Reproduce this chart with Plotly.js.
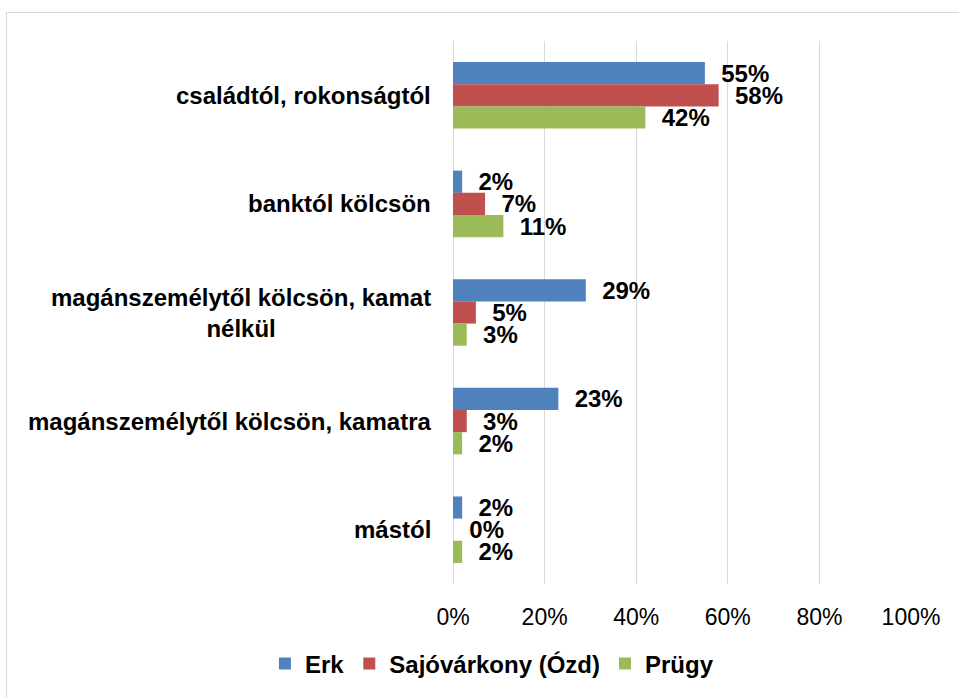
<!DOCTYPE html>
<html>
<head>
<meta charset="utf-8">
<script src="https://cdn.plot.ly/plotly-3.0.1.min.js"></script>
<style>
html,body{margin:0;padding:0;background:#fff;overflow:hidden;}
#frame{position:absolute;left:6px;top:12px;width:2000px;height:2000px;border:1px solid #D9D9D9;box-sizing:border-box;pointer-events:none;z-index:2;}
#chart{position:absolute;left:0;top:0;width:959px;height:698px;}
</style>
</head>
<body>
<div id="chart"></div>
<div id="frame"></div>
<script>
const categories = [
  "családtól, rokonságtól",
  "banktól kölcsön",
  "magánszemélytől kölcsön, kamat<br>nélkül",
  "magánszemélytől kölcsön, kamatra",
  "mástól"
];
const seriesNames = ["Erk", "Sajóvárkony (Ózd)", "Prügy"];
const erk = [55, 2, 29, 23, 2];
const sajovarkony = [58, 7, 5, 3, 0];
const prugy = [42, 11, 3, 2, 2];
const xTickValues = [0, 20, 40, 60, 80, 100];
const colors = ["#4F81BD", "#C0504D", "#9BBB59"];

const FONT = "Liberation Sans, Arial, sans-serif";
const series = [erk, sajovarkony, prugy];
const labelFont = {family: FONT, size: 24, color: "#000", weight: "bold"};

const traces = series.map((vals, i) => ({
  type: "bar",
  orientation: "h",
  name: seriesNames[i],
  x: vals,
  y: categories,
  marker: {color: colors[i]},
  text: vals.map(v => "\u00a0\u00a0" + v + "%"),
  textposition: "outside",
  textfont: labelFont,
  outsidetextfont: labelFont,
  constraintext: "none",
  cliponaxis: false,
  hoverinfo: "none"
}));

const annotations = categories.map(c => ({
  xref: "paper", yref: "y",
  x: 0, y: c,
  xanchor: "right", yanchor: "middle",
  xshift: -20,
  align: "center",
  showarrow: false,
  text: c,
  font: {family: FONT, size: 24, color: "#000", weight: "bold"}
}));

const layout = {
  width: 959, height: 698,
  margin: {l: 453, r: 48, t: 41, b: 111},
  paper_bgcolor: "#fff", plot_bgcolor: "#fff",
  barmode: "group",
  bargap: 0.388,
  bargroupgap: 0,
  showlegend: true,
  legend: {
    orientation: "h",
    x: 0.085, xanchor: "center",
    y: -0.147, yanchor: "middle",
    font: {family: FONT, size: 24, color: "#000", weight: "bold"},
    itemwidth: 30,
    itemclick: false
  },
  xaxis: {
    range: [0, 100],
    tickvals: xTickValues,
    ticktext: xTickValues.map(v => v + "%"),
    showgrid: true, gridcolor: "#D9D9D9", gridwidth: 1,
    zeroline: true, zerolinecolor: "#D9D9D9", zerolinewidth: 1,
    showline: false,
    ticks: "outside", ticklen: 12, tickcolor: "rgba(0,0,0,0)",
    tickfont: {family: FONT, size: 23, color: "#000"},
    fixedrange: true
  },
  yaxis: {
    autorange: "reversed",
    showticklabels: false,
    showgrid: false, zeroline: false, showline: false,
    ticks: "",
    fixedrange: true
  },
  annotations: annotations
};

Plotly.newPlot("chart", traces, layout, {displayModeBar: false, staticPlot: true});
</script>
</body>
</html>
